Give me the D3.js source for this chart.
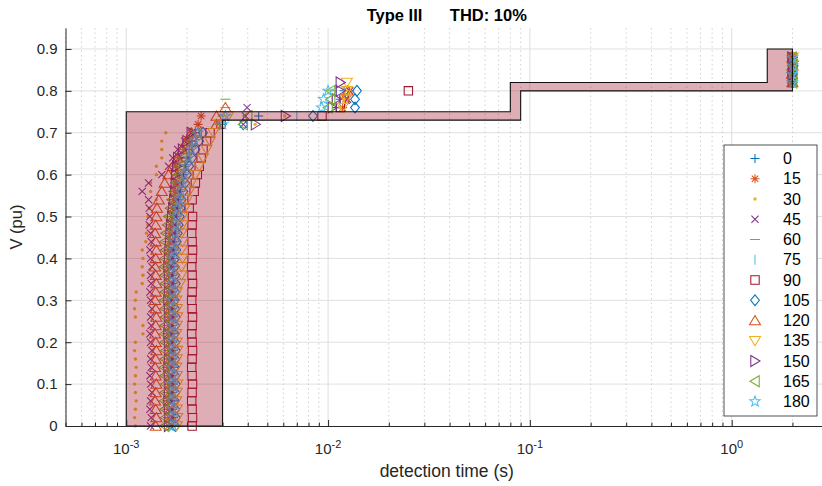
<!DOCTYPE html>
<html><head><meta charset="utf-8">
<script src="https://cdn.jsdelivr.net/npm/d3@7"></script>
<style>
body{margin:0;background:#fff;}
svg{display:block;font-family:"Liberation Sans",Arial,Helvetica,sans-serif;}
</style></head><body>
<svg id="chart" width="822" height="486"></svg>
<script>
// ---- data ----
const voltages = [0,0.02,0.04,0.06,0.08,0.1,0.12,0.14,0.16,0.18,0.2,0.22,0.24,0.26,0.28,0.3,0.32,0.34,0.36,0.38,0.4,0.42,0.44,0.46,0.48,0.5,0.52,0.54,0.56,0.58,0.6,0.62,0.64,0.66,0.68,0.7,0.72,0.74,0.76,0.78,0.8,0.82,0.84,0.86,0.88];
const angles = [0,15,30,45,60,75,90,105,120,135,150,165,180];
// detection times in ms for each voltage level
const det0   = [1.70,1.71,1.70,1.72,1.70,1.71,1.70,1.72,1.70,1.71,1.70,1.72,1.70,1.71,1.70,1.72,1.70,1.71,1.70,1.72,1.72,1.73,1.74,1.75,1.77,1.78,1.80,1.82,1.85,1.88,1.92,1.96,2.00,2.05,2.12,2.20,3.00,4.53,11.0,11.5,12.0,2000,2010,1990,2020];
const det15  = [1.62,1.63,1.62,1.61,1.62,1.63,1.62,1.61,1.62,1.63,1.62,1.61,1.62,1.63,1.62,1.61,1.62,1.63,1.62,1.61,1.62,1.63,1.64,1.65,1.66,1.68,1.70,1.72,1.74,1.76,1.80,1.75,1.82,1.93,2.00,2.12,2.27,2.35,11.8,12.2,12.8,1990,2000,2010,1980];
const det30  = [1.11,1.10,1.11,1.12,1.11,1.10,1.11,1.12,1.11,1.10,1.11,1.21,1.21,1.11,1.10,1.11,1.12,1.20,1.21,1.20,1.21,1.20,1.25,1.26,1.28,1.28,1.30,1.41,1.32,1.32,1.41,1.41,1.50,1.50,1.50,1.57,4.35,6.10,11.5,12.0,12.5,2000,1990,2010,2000];
const det45  = [1.32,1.33,1.31,1.32,1.34,1.32,1.31,1.33,1.32,1.34,1.32,1.31,1.33,1.32,1.34,1.32,1.31,1.33,1.32,1.34,1.32,1.31,1.33,1.32,1.30,1.31,1.30,1.29,1.20,1.29,1.50,1.62,1.70,1.80,1.95,2.10,3.80,3.90,3.97,12.5,12.8,2000,2010,2000,1990];
const det60  = [1.60,1.61,1.60,1.59,1.60,1.61,1.60,1.59,1.60,1.61,1.60,1.59,1.60,1.61,1.60,1.59,1.60,1.61,1.60,1.59,1.60,1.61,1.60,1.62,1.64,1.66,1.68,1.70,1.72,1.75,1.78,1.82,1.88,1.95,2.05,2.20,2.90,3.00,3.10,3.10,10.5,2000,1990,2000,2010];
const det75  = [1.72,1.73,1.72,1.71,1.72,1.73,1.72,1.71,1.72,1.73,1.72,1.71,1.72,1.73,1.72,1.71,1.72,1.73,1.72,1.71,1.72,1.74,1.75,1.77,1.78,1.80,1.82,1.85,1.88,1.92,1.96,2.00,2.05,2.12,2.20,2.30,2.90,7.00,10.0,10.5,11.0,2000,2000,1990,2010];
const det90  = [2.12,2.13,2.12,2.11,2.12,2.13,2.12,2.11,2.12,2.13,2.12,2.11,2.12,2.13,2.12,2.11,2.12,2.13,2.12,2.11,2.12,2.13,2.12,2.11,2.12,2.13,2.05,2.12,2.17,2.20,2.25,2.30,2.35,2.40,2.50,2.60,2.95,9.33,11.5,12.0,25.0,2000,1990,2010,2000];
const det105 = [1.75,1.76,1.75,1.74,1.75,1.76,1.75,1.74,1.75,1.76,1.75,1.74,1.75,1.76,1.75,1.74,1.75,1.76,1.75,1.74,1.75,1.77,1.78,1.80,1.82,1.84,1.86,1.88,1.92,1.96,2.00,2.05,2.12,2.20,2.30,2.40,3.80,8.42,13.6,13.6,13.9,2000,2010,2000,1990];
const det120 = [1.40,1.41,1.40,1.39,1.40,1.41,1.40,1.39,1.40,1.41,1.40,1.39,1.40,1.41,1.40,1.39,1.40,1.41,1.40,1.39,1.40,1.41,1.40,1.39,1.40,1.41,1.42,1.45,1.50,1.55,1.62,1.70,1.80,1.90,2.00,2.10,2.80,2.80,3.10,12.0,12.5,2000,1990,2000,2010];
const det135 = [1.78,1.79,1.78,1.77,1.78,1.79,1.78,1.77,1.78,1.79,1.78,1.77,1.78,1.79,1.78,1.77,1.78,1.85,1.88,1.88,1.90,1.88,1.90,1.88,1.90,1.90,1.95,2.00,2.05,2.10,2.20,2.30,2.40,2.50,2.60,2.70,2.90,3.20,11.8,12.2,12.4,12.4,2000,1990,2010];
const det150 = [1.62,1.63,1.62,1.61,1.62,1.63,1.62,1.61,1.62,1.63,1.62,1.61,1.62,1.63,1.62,1.61,1.62,1.63,1.62,1.61,1.62,1.63,1.64,1.65,1.66,1.68,1.70,1.72,1.74,1.75,1.76,1.78,1.80,1.90,2.00,2.10,4.37,6.15,10.5,11.0,11.5,11.5,2000,2010,1990];
const det165 = [1.55,1.56,1.55,1.54,1.55,1.56,1.55,1.54,1.55,1.56,1.55,1.54,1.55,1.56,1.55,1.54,1.55,1.56,1.55,1.54,1.55,1.56,1.55,1.57,1.60,1.62,1.65,1.68,1.72,1.76,1.80,1.85,1.90,2.00,2.10,2.25,3.80,4.00,10.0,10.3,10.3,2000,2010,2000,1990];
const det180 = [1.70,1.71,1.70,1.69,1.70,1.71,1.70,1.69,1.70,1.71,1.70,1.69,1.70,1.71,1.70,1.69,1.70,1.71,1.70,1.69,1.70,1.72,1.73,1.75,1.76,1.78,1.80,1.83,1.86,1.90,1.94,1.98,2.03,2.10,2.18,2.26,3.00,3.10,9.3,9.5,10.0,2000,1990,2010,2000];
const seriesTimes = [det0,det15,det30,det45,det60,det75,det90,det105,det120,det135,det150,det165,det180];
const markerTypes = ['plus','asterisk','point','cross','hline','vline','square','diamond','triUp','triDown','triRight','triLeft','star'];
const palette = ['#0072BD','#D95319','#EDB120','#7E2F8E','#77AC30','#4DBEEE','#A2142F'];
// ride-through zone outline (time s, voltage pu)
const zoneTime = [1e-3,1e-3,0.08,0.08,1.5,1.5,2,2,0.09,0.09,3e-3,3e-3];
const zoneVolt = [0,0.75,0.75,0.82,0.82,0.9,0.9,0.8,0.8,0.73,0.73,0];
const yTicks = [0,0.1,0.2,0.3,0.4,0.5,0.6,0.7,0.8,0.9];
const xTicks = [1e-3,1e-2,1e-1,1];
const xExponents = ['-3','-2','-1','0'];

// ---- layout ----
const svg = d3.select('#chart');
const L = 65.5, R = 828, T = 28, B = 426;
const x = d3.scaleLog().domain([5e-4, 3]).range([L, R]);
const y = d3.scaleLinear().domain([0, 0.95]).range([B, T]);
const axisCol = '#262626';

// minor x values
const minorX = [];
[1e-4,1e-3,1e-2,1e-1,1].forEach(d => { for (let k=2;k<=9;k++){ const v=d*k; if (v>=5e-4 && v<=3) minorX.push(v);} });

// grid
const grid = svg.append('g');
grid.selectAll('.gy').data(yTicks.slice(1)).join('line')
  .attr('x1',L).attr('x2',R).attr('y1',d=>y(d)).attr('y2',d=>y(d))
  .attr('stroke','#e0e0e0').attr('stroke-width',1);
grid.selectAll('.gmx').data(minorX).join('line')
  .attr('x1',d=>x(d)).attr('x2',d=>x(d)).attr('y1',T).attr('y2',B)
  .attr('stroke','#c4c4c4').attr('stroke-width',0.8).attr('stroke-dasharray','1.5,3');
grid.selectAll('.gx').data(xTicks).join('line')
  .attr('x1',d=>x(d)).attr('x2',d=>x(d)).attr('y1',T).attr('y2',B)
  .attr('stroke','#dedede').attr('stroke-width',1);

// marker shapes
function starPath(R1, r1){
  let p='';
  for (let k=0;k<10;k++){
    const a = -Math.PI/2 + k*Math.PI/5;
    const rr = k%2===0 ? R1 : r1;
    p += (k===0?'M':'L') + (rr*Math.cos(a)).toFixed(2) + ',' + (rr*Math.sin(a)).toFixed(2);
  }
  return p+'Z';
}
const shapes = {
  plus: 'M-4.5,0H4.5M0,-4.5V4.5',
  asterisk: 'M-4.5,0H4.5M0,-4.5V4.5M-3.2,-3.2L3.2,3.2M-3.2,3.2L3.2,-3.2',
  cross: 'M-3.6,-3.6L3.6,3.6M-3.6,3.6L3.6,-3.6',
  hline: 'M-5,0H5',
  vline: 'M0,-5V5',
  square: 'M-4.2,-4.2H4.2V4.2H-4.2Z',
  diamond: 'M0,-5.4L4.4,0L0,5.4L-4.4,0Z',
  triUp: 'M0,-5L5.5,4.2H-5.5Z',
  triDown: 'M0,5L5.5,-4.2H-5.5Z',
  triRight: 'M5,0L-4.2,-5.5V5.5Z',
  triLeft: 'M-5,0L4.2,-5.5V5.5Z',
  star: starPath(5.5, 2.3)
};
function drawMarker(g, type, color){
  if (type==='point'){
    g.append('circle').attr('r',1.7).attr('fill',color);
  } else {
    g.append('path').attr('d',shapes[type]).attr('fill','none').attr('stroke',color).attr('stroke-width',1.05);
  }
}

// data markers
const marks = svg.append('g');
seriesTimes.forEach((times, si) => {
  const color = palette[si % 7];
  const pts = times.map((ms,i)=>({t: ms/1000, v: voltages[i]}));
  const g = marks.append('g');
  pts.forEach(p => {
    const mg = g.append('g').attr('transform',`translate(${x(p.t)},${y(p.v)})`);
    drawMarker(mg, markerTypes[si], color);
  });
});

// ride-through zone patch (drawn over markers, semi-transparent)
const zonePts = zoneTime.map((t,i)=>({t, v: zoneVolt[i]}));
svg.append('path')
  .attr('d', d3.line().x(d=>x(d.t)).y(d=>y(d.v))(zonePts)+'Z')
  .attr('fill','#A2142F').attr('fill-opacity',0.35)
  .attr('stroke','#111').attr('stroke-width',1.1);

// axes
svg.append('g').attr('transform',`translate(0,${B})`)
  .call(d3.axisBottom(x).tickValues(xTicks).tickSizeInner(-6).tickSizeOuter(0).tickFormat(''));
svg.append('g').attr('transform',`translate(0,${B})`)
  .call(d3.axisBottom(x).tickValues(minorX).tickSizeInner(-3.5).tickSizeOuter(0).tickFormat(''))
  .call(g=>g.select('.domain').remove());
const yAxisG = svg.append('g').attr('transform',`translate(${L},0)`)
  .call(d3.axisLeft(y).tickValues(yTicks).tickSizeInner(-6).tickSizeOuter(0).tickPadding(8)
    .tickFormat(d => d===0 ? '0' : d3.format('.1f')(d)));
svg.selectAll('.domain').attr('stroke',axisCol).attr('stroke-width',1);
svg.selectAll('.tick line').attr('stroke',axisCol);
yAxisG.selectAll('text').attr('font-size',15).attr('fill',axisCol).attr('font-family','"Liberation Sans",Arial,sans-serif');

// x tick labels with superscripts
const xl = svg.append('g');
xTicks.forEach((t,i) => {
  const tx = xl.append('text').attr('x', x(t)).attr('y', 454).attr('text-anchor','middle')
    .attr('font-size',15).attr('fill',axisCol);
  tx.append('tspan').text('10');
  tx.append('tspan').attr('dy',-6.5).attr('font-size',11).text(xExponents[i]);
});

// labels
svg.append('text').attr('x',(L+R)/2).attr('y',477).attr('text-anchor','middle')
  .attr('font-size',17.5).attr('fill',axisCol).text('detection time (s)');
svg.append('text').attr('transform',`translate(22,${(T+B)/2}) rotate(-90)`).attr('text-anchor','middle')
  .attr('font-size',16.5).attr('fill',axisCol).text('V (pu)');
svg.append('text').attr('x',(L+R)/2).attr('y',21).attr('text-anchor','middle')
  .attr('font-size',16.5).attr('font-weight','bold').attr('fill','#000')
  .style('white-space','pre').attr('xml:space','preserve').text('Type III      THD: 10%');

// legend
const lg = svg.append('g');
const lx = 724, ly = 145, lw = 93, lh = 271, step = 20.25;
lg.append('rect').attr('x',lx).attr('y',ly).attr('width',lw).attr('height',lh)
  .attr('fill','#fff').attr('stroke',axisCol).attr('stroke-width',0.8);
angles.forEach((a,i) => {
  const cy = ly + 13.5 + i*step;
  const mg = lg.append('g').attr('transform',`translate(${lx+31},${cy})`);
  drawMarker(mg, markerTypes[i], palette[i%7]);
  lg.append('text').attr('x', lx+59).attr('y', cy+5.5).attr('font-size',16).attr('fill','#000').text(a);
});
</script>
</body></html>
